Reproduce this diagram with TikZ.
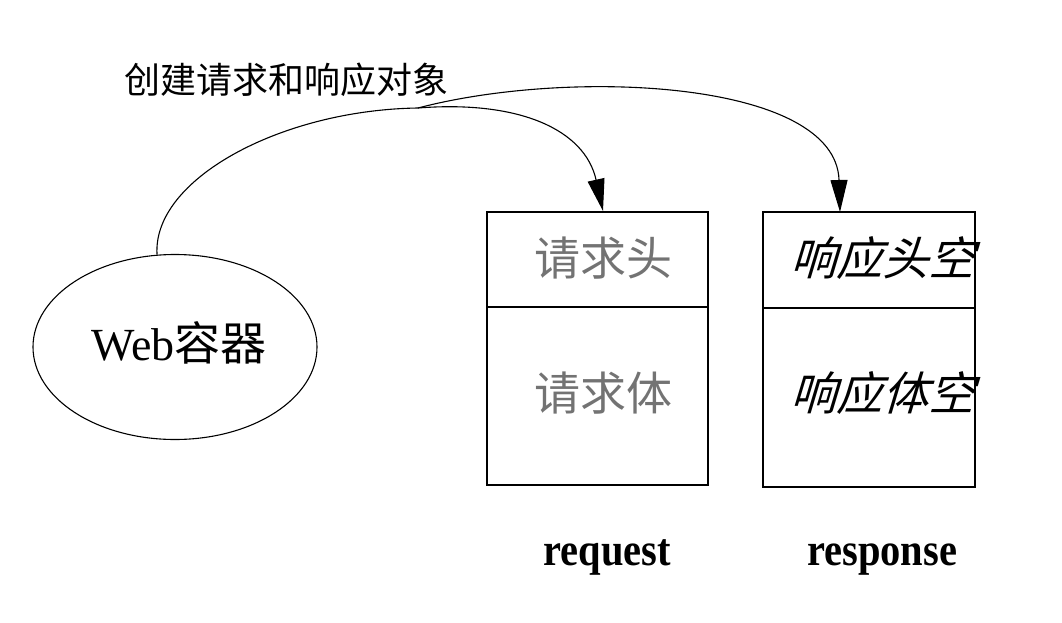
\documentclass[tikz,border=0pt]{standalone}
\usepackage{fontspec}
\setmainfont{Liberation Serif}
\newfontfamily\cjk{Noto Sans CJK SC}
\newfontfamily\cjkit[FakeSlant=0.3]{Noto Sans CJK SC}
\newfontfamily\objfont[FakeStretch=0.88]{Liberation Serif Bold}
\usetikzlibrary{arrows.meta,shapes.geometric}
\begin{document}
\begin{tikzpicture}[x=1pt,y=-1pt,
  every node/.style={inner sep=0pt},
  conn/.style={line width=1.1pt,-{Triangle[length=32pt,width=17pt]}},
  box/.style={draw,line width=1.1pt},
  graytxt/.style={text=black!55,font=\cjk\fontsize{46}{50}\selectfont},
  ittxt/.style={text=black,font=\cjkit\fontsize{46}{50}\selectfont},
  lbl/.style={font=\objfont\fontsize{46}{50}\selectfont,anchor=base}]
\useasboundingbox (0,0) rectangle (1062,623);
% container
\node[draw,ellipse,line width=1.1pt,minimum width=284pt,minimum height=185pt] (web) at (175,347) {};
\node (webtxt) at (179,343) {\fontsize{46}{50}\selectfont Web{\cjk 容器}};
% request object
\draw[box] (487,212) rectangle (708,485);
\draw[box] (487,307) -- (708,307);
\coordinate (reqtop) at (603,211);
\node[graytxt] (reqhead) at (603,258) {请求头};
\node[graytxt] (reqbody) at (603,393) {请求体};
\node[lbl] (reqlbl) at (607,565) {request};
% response object
\draw[box] (763,212) rectangle (975,487);
\draw[box] (763,308) -- (975,308);
\coordinate (resptop) at (840,212);
\node[ittxt] (resphead) at (882,258) {响应头空};
\node[ittxt] (respbody) at (882,393) {响应体空};
\node[lbl] (resplbl) at (882,565) {response};
% creation label and arrows
\node[font=\cjk\fontsize{36}{40}\selectfont] (create) at (286,80) {创建请求和响应对象};
\coordinate (split) at (418,108);
\draw[line width=1.1pt] (web.101) .. controls (152,180) and (280,110) .. (split);
\draw[conn] (split) .. controls (520,100) and (585,130) .. (reqtop);
\draw[conn] (split) .. controls (570,68) and (836,80) .. (resptop);
\end{tikzpicture}
\end{document}
